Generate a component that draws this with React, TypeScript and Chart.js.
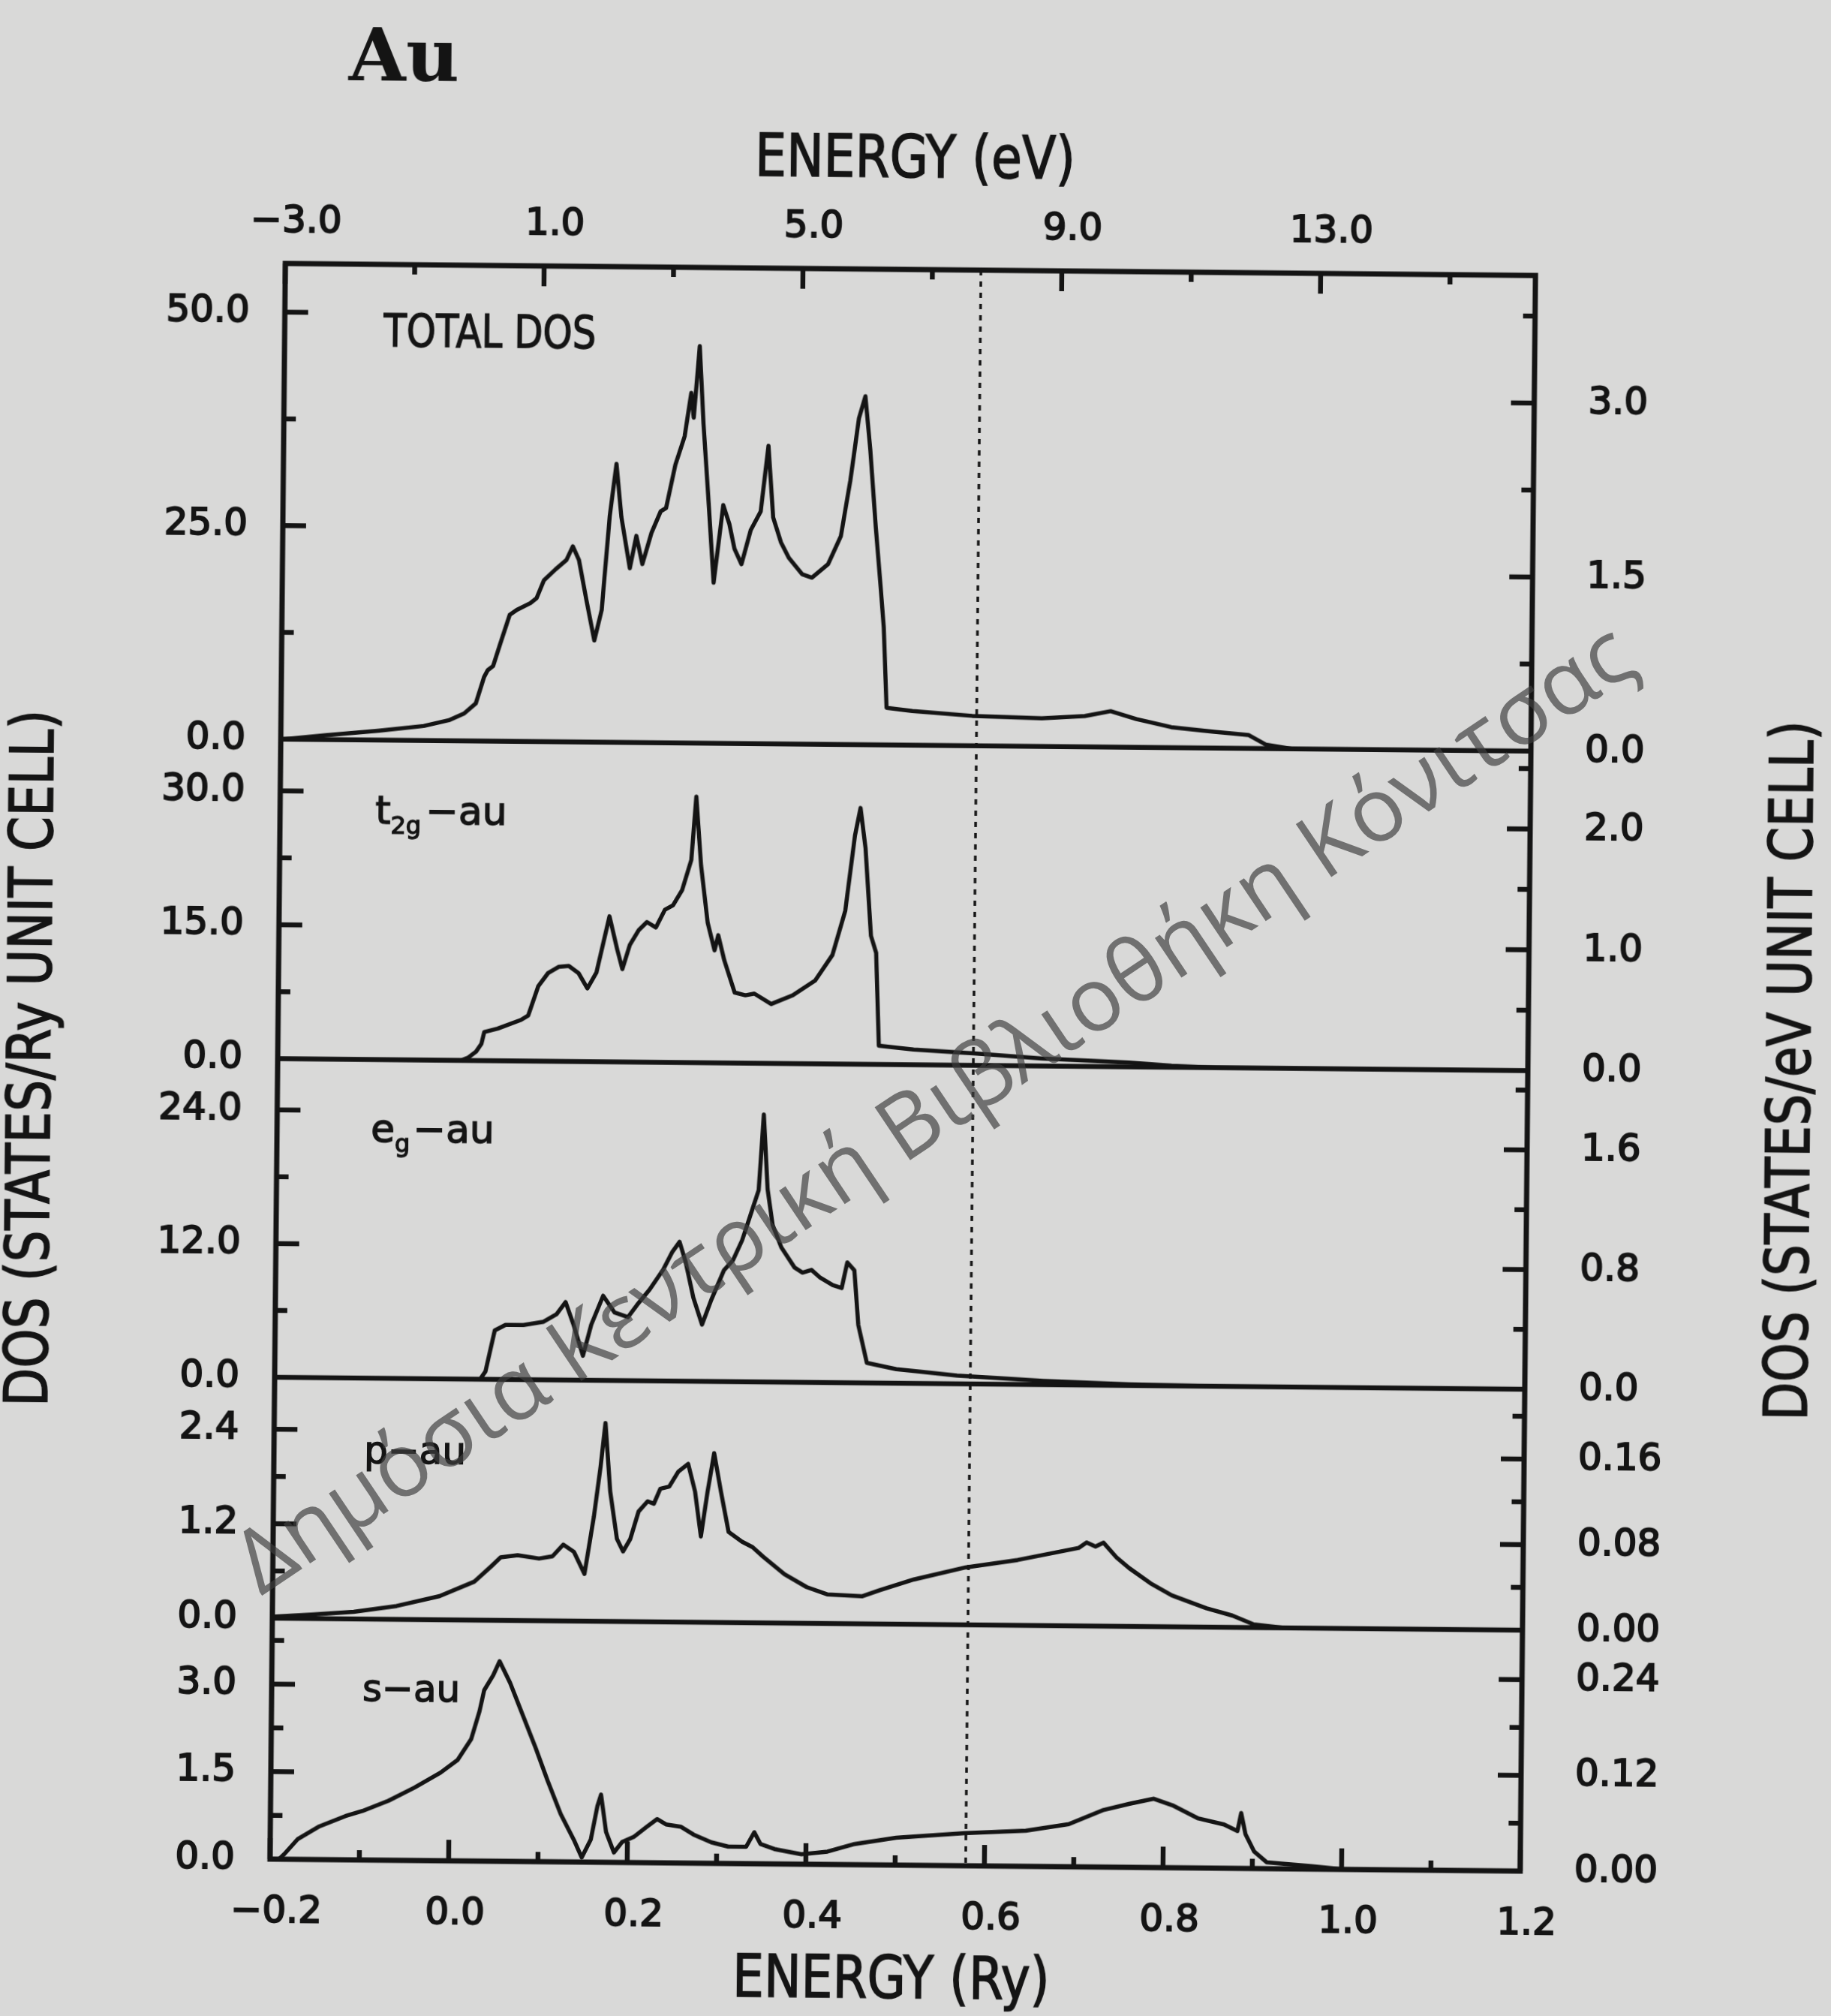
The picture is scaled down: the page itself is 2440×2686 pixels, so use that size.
import React, { useEffect, useMemo, useRef } from "react";
import { Chart, registerables } from "chart.js";

Chart.register(...registerables);

const W = 2440;
const H = 2686;
const INK = "#141414";
const PAPER = "#d9d9d8";
const FONT = "'DejaVu Sans', 'Noto Sans', sans-serif";
Chart.defaults.font.family = FONT;

// ---------------- data (energy in Ry, DOS in states/Ry unit cell) ----------------
const totalRy = [-0.196, -0.15, -0.09, -0.04, -0.012, 0.005, 0.018, 0.027, 0.031, 0.037, 0.045, 0.055, 0.063, 0.078, 0.085, 0.093, 0.106, 0.118, 0.125, 0.132, 0.141, 0.15, 0.158, 0.166, 0.173, 0.179, 0.189, 0.196, 0.203, 0.213, 0.223, 0.229, 0.239, 0.249, 0.256, 0.259, 0.265, 0.27, 0.276, 0.283, 0.293, 0.3, 0.306, 0.314, 0.324, 0.335, 0.343, 0.349, 0.358, 0.367, 0.382, 0.393, 0.411, 0.425, 0.435, 0.444, 0.451, 0.457, 0.464, 0.47, 0.474, 0.478, 0.507, 0.574, 0.652, 0.7, 0.729, 0.758, 0.797, 0.845, 0.884, 0.903, 0.932, 1.2];
const totalDos = [0, 0.5, 1.1, 1.7, 2.4, 3.2, 4.4, 7.5, 8.3, 8.8, 11.5, 14.8, 15.4, 16.2, 16.8, 18.9, 20.2, 21.3, 22.9, 21.3, 16.5, 11.9, 15.5, 26.5, 32.6, 26.4, 20.4, 24.2, 20.9, 24.6, 27.1, 27.5, 32.6, 35.9, 41.0, 38.1, 46.5, 37.4, 29.0, 18.8, 27.9, 25.7, 22.8, 21.0, 25.0, 27.2, 34.9, 26.5, 23.6, 21.8, 19.9, 19.5, 21.1, 24.4, 30.9, 38.2, 40.8, 34.6, 25.5, 18.6, 13.8, 4.35, 4.0, 3.5, 3.3, 3.6, 4.2, 3.3, 2.4, 1.9, 1.55, 0.47, 0, 0];

const t2gRy = [-0.2, 0.005, 0.013, 0.022, 0.028, 0.031, 0.046, 0.072, 0.08, 0.091, 0.102, 0.114, 0.125, 0.136, 0.146, 0.156, 0.17, 0.179, 0.185, 0.193, 0.203, 0.212, 0.222, 0.232, 0.241, 0.251, 0.261, 0.266, 0.272, 0.28, 0.288, 0.292, 0.299, 0.311, 0.323, 0.333, 0.352, 0.376, 0.401, 0.42, 0.434, 0.444, 0.45, 0.456, 0.463, 0.469, 0.473, 0.512, 0.579, 0.656, 0.753, 0.801, 0.849, 1.2];
const t2gDos = [0, 0, 0.3, 1.0, 1.9, 3.2, 3.6, 4.6, 5.1, 8.4, 9.9, 10.6, 10.7, 9.9, 8.2, 10.0, 16.3, 12.6, 10.4, 13.1, 14.8, 15.7, 15.1, 17.1, 17.6, 19.3, 22.7, 29.8, 22.1, 15.7, 12.6, 14.3, 11.5, 7.9, 7.6, 7.8, 6.65, 7.65, 9.34, 12.2, 17.2, 25.6, 28.7, 24.2, 14.4, 12.5, 2.1, 1.7, 1.35, 0.84, 0.49, 0.16, 0, 0];

const egRy = [-0.2, 0.03, 0.036, 0.046, 0.058, 0.078, 0.1, 0.115, 0.125, 0.134, 0.145, 0.154, 0.167, 0.18, 0.195, 0.205, 0.219, 0.234, 0.244, 0.252, 0.259, 0.268, 0.278, 0.288, 0.302, 0.312, 0.322, 0.332, 0.34, 0.345, 0.35, 0.356, 0.366, 0.381, 0.39, 0.4, 0.41, 0.424, 0.434, 0.44, 0.448, 0.453, 0.463, 0.496, 0.564, 0.661, 0.757, 0.85, 1.2];
const egDos = [0, 0, 0.7, 4.4, 4.9, 4.9, 5.2, 5.9, 7.0, 5.0, 2.2, 5.0, 7.6, 6.1, 5.7, 6.8, 8.2, 10.0, 11.6, 12.5, 10.7, 7.5, 5.1, 7.3, 10.0, 10.9, 12.7, 15.2, 17.2, 24.0, 17.3, 14.1, 12.1, 10.3, 9.85, 10.1, 9.4, 8.75, 8.5, 10.8, 10.1, 5.2, 1.8, 1.26, 0.74, 0.34, 0.1, 0, 0];

const pRy = [-0.2, -0.157, -0.109, -0.061, -0.013, 0.026, 0.045, 0.055, 0.074, 0.098, 0.113, 0.125, 0.137, 0.149, 0.159, 0.166, 0.171, 0.177, 0.185, 0.192, 0.2, 0.209, 0.219, 0.226, 0.233, 0.243, 0.253, 0.264, 0.272, 0.279, 0.286, 0.293, 0.301, 0.31, 0.325, 0.337, 0.349, 0.373, 0.398, 0.421, 0.46, 0.48, 0.518, 0.576, 0.634, 0.702, 0.711, 0.721, 0.73, 0.745, 0.759, 0.783, 0.807, 0.846, 0.875, 0.899, 0.933, 1.2];
const pDos = [0.02, 0.05, 0.09, 0.17, 0.3, 0.49, 0.69, 0.8, 0.83, 0.79, 0.82, 0.97, 0.88, 0.6, 1.33, 1.97, 2.52, 1.65, 1.05, 0.89, 1.05, 1.4, 1.53, 1.5, 1.69, 1.72, 1.91, 2.01, 1.66, 1.09, 1.66, 2.15, 1.66, 1.15, 1.03, 0.96, 0.84, 0.62, 0.46, 0.37, 0.35, 0.43, 0.57, 0.73, 0.83, 0.99, 1.06, 1.01, 1.06, 0.87, 0.74, 0.55, 0.4, 0.24, 0.15, 0.04, 0, 0];

const sRy = [-0.19, -0.184, -0.169, -0.145, -0.116, -0.097, -0.068, -0.039, -0.01, 0.009, 0.024, 0.033, 0.038, 0.048, 0.055, 0.067, 0.082, 0.096, 0.11, 0.125, 0.14, 0.149, 0.159, 0.166, 0.17, 0.176, 0.185, 0.194, 0.207, 0.221, 0.233, 0.243, 0.26, 0.274, 0.294, 0.313, 0.333, 0.342, 0.349, 0.366, 0.395, 0.424, 0.453, 0.501, 0.578, 0.646, 0.694, 0.733, 0.762, 0.789, 0.81, 0.839, 0.868, 0.883, 0.887, 0.892, 0.902, 0.916, 0.965, 1.003, 1.2];
const sDos = [0, 0.09, 0.35, 0.57, 0.75, 0.84, 1.02, 1.25, 1.51, 1.73, 2.09, 2.57, 2.93, 3.19, 3.43, 3.06, 2.49, 1.96, 1.39, 0.82, 0.38, 0.08, 0.39, 0.96, 1.16, 0.52, 0.17, 0.35, 0.44, 0.61, 0.75, 0.66, 0.62, 0.49, 0.36, 0.29, 0.29, 0.54, 0.34, 0.25, 0.17, 0.22, 0.35, 0.47, 0.56, 0.61, 0.73, 0.98, 1.09, 1.18, 1.07, 0.85, 0.75, 0.64, 0.95, 0.59, 0.29, 0.11, 0.05, 0, 0];

const fermiRy = 0.579;

// ---------------- ticks ----------------
const ryTicks = [-0.2, -0.1, 0, 0.1, 0.2, 0.3, 0.4, 0.5, 0.6, 0.7, 0.8, 0.9, 1.0, 1.1, 1.2];
const ryLabels = ["\u22120.2", "", "0.0", "", "0.2", "", "0.4", "", "0.6", "", "0.8", "", "1.0", "", "1.2"];
const evTicks = [-3, -1, 1, 3, 5, 7, 9, 11, 13, 15];
const evLabels = ["\u22123.0", "", "1.0", "", "5.0", "", "9.0", "", "13.0", ""];

const totalTicks = [0, 12.5, 25, 37.5, 50];
const totalLabels = ["0.0", "", "25.0", "", "50.0"];
const totalEvTicks = [0, 0.75, 1.5, 2.25, 3.0, 3.75];
const totalEvLabels = ["0.0", "", "1.5", "", "3.0", ""];
const t2gTicks = [0, 7.5, 15, 22.5, 30];
const t2gLabels = ["0.0", "", "15.0", "", "30.0"];
const t2gEvTicks = [0, 0.5, 1.0, 1.5, 2.0, 2.5];
const t2gEvLabels = ["0.0", "", "1.0", "", "2.0", ""];
const egTicks = [0, 6, 12, 18, 24];
const egLabels = ["0.0", "", "12.0", "", "24.0"];
const egEvTicks = [0, 0.4, 0.8, 1.2, 1.6, 2.0];
const egEvLabels = ["0.0", "", "0.8", "", "1.6", ""];
const pTicks = [0, 0.6, 1.2, 1.8, 2.4];
const pLabels = ["0.0", "", "1.2", "", "2.4"];
const pEvTicks = [0, 0.04, 0.08, 0.12, 0.16, 0.2];
const pEvLabels = ["0.00", "", "0.08", "", "0.16", ""];
const sTicks = [0, 0.75, 1.5, 2.25, 3.0, 3.75];
const sLabels = ["0.0", "", "1.5", "", "3.0", ""];
const sEvTicks = [0, 0.06, 0.12, 0.18, 0.24];
const sEvLabels = ["0.00", "", "0.12", "", "0.24"];

// ---------------- layout ----------------
const FRAME = { left: 370, right: 2036, top: 359, bottom: 2485 };
const TILT = 0.55;

const panels = [
  { key: "tot", ry: totalRy, dos: totalDos, max: 55.7, evMax: 4.1, h: 633.7, lt: totalTicks, ll: totalLabels, rt: totalEvTicks, rl: totalEvLabels },
  { key: "t2g", ry: t2gRy, dos: t2gDos, max: 35.8, evMax: 2.645, h: 425.8, lt: t2gTicks, ll: t2gLabels, rt: t2gEvTicks, rl: t2gEvLabels },
  { key: "eg", ry: egRy, dos: egDos, max: 28.6, evMax: 2.13, h: 424.5, lt: egTicks, ll: egLabels, rt: egEvTicks, rl: egEvLabels },
  { key: "p", ry: pRy, dos: pDos, max: 3.06, evMax: 0.2253, h: 321, lt: pTicks, ll: pLabels, rt: pEvTicks, rl: pEvLabels },
  { key: "s", ry: sRy, dos: sDos, max: 4.13, evMax: 0.302, h: 321, lt: sTicks, ll: sLabels, rt: sEvTicks, rl: sEvLabels },
];

const tickFont = { size: 50, family: FONT };
const tickInk = { color: INK, font: tickFont, textStrokeColor: INK, textStrokeWidth: 2 };

function buildScales() {
  const scales: any = {
    x: {
      type: "linear", position: "bottom", min: -0.2, max: 1.2,
      grid: { display: false, drawTicks: false }, border: { display: false },
      afterBuildTicks: (s: any) => { s.ticks = ryTicks.map((v) => ({ value: v })); },
      afterFit: (s: any) => { s.height = H - FRAME.bottom; },
      ticks: { ...tickInk, autoSkip: false, maxRotation: 0, minRotation: 0, padding: 41, labelOffset: 9, callback: (_v: any, i: number) => ryLabels[i] },
    },
    xev: {
      type: "linear", position: "top", min: -3, max: 16.32,
      grid: { display: false, drawTicks: false }, border: { display: false },
      afterBuildTicks: (s: any) => { s.ticks = evTicks.map((v) => ({ value: v })); },
      afterFit: (s: any) => { s.height = FRAME.top; },
      ticks: { ...tickInk, autoSkip: false, maxRotation: 0, minRotation: 0, padding: 25, labelOffset: 14, callback: (_v: any, i: number) => evLabels[i] },
    },
  };
  panels.forEach((p, i) => {
    scales["L" + p.key] = {
      type: "linear", position: "left", stack: "L", stackWeight: p.h, weight: 10 - i,
      min: 0, max: p.max,
      grid: { display: false, drawTicks: false }, border: { display: false },
      afterBuildTicks: (s: any) => { s.ticks = p.lt.map((v) => ({ value: v })); },
      afterFit: (s: any) => { s.width = FRAME.left; },
      ticks: { ...tickInk, autoSkip: false, padding: 47, callback: (_v: any, k: number) => p.ll[k] },
    };
    scales["R" + p.key] = {
      type: "linear", position: "right", stack: "R", stackWeight: p.h, weight: i + 1,
      min: 0, max: p.evMax,
      grid: { display: false, drawTicks: false }, border: { display: false },
      afterBuildTicks: (s: any) => { s.ticks = p.rt.map((v) => ({ value: v })); },
      afterFit: (s: any) => { s.width = W - FRAME.right; },
      ticks: { ...tickInk, autoSkip: false, padding: 72, callback: (_v: any, k: number) => p.rl[k] },
    };
  });
  return scales;
}

const framePlugin = {
  id: "dosFrame",
  afterDatasetsDraw(chart: any) {
    const { ctx, chartArea: a, scales } = chart;
    const seg = (x1: number, y1: number, x2: number, y2: number) => {
      ctx.beginPath(); ctx.moveTo(x1, y1); ctx.lineTo(x2, y2); ctx.stroke();
    };
    ctx.save();
    ctx.strokeStyle = INK;
    ctx.lineCap = "butt";
    // Fermi level
    ctx.lineWidth = 3.5;
    ctx.setLineDash([7, 8]);
    const xf = scales.x.getPixelForValue(fermiRy);
    seg(xf, a.top, xf, a.bottom);
    ctx.setLineDash([]);
    ctx.lineWidth = 6.5;
    panels.forEach((p, i) => {
      const L = scales["L" + p.key];
      const R = scales["R" + p.key];
      if (i < panels.length - 1) {
        const y0 = L.getPixelForValue(0);
        seg(a.left, y0, a.right, y0);
      }
      p.lt.forEach((v, k) => {
        if (v === 0) return;
        const y = L.getPixelForValue(v);
        seg(a.left, y, a.left + (p.ll[k] ? 31 : 16), y);
      });
      p.rt.forEach((v, k) => {
        if (v === 0) return;
        const y = R.getPixelForValue(v);
        seg(a.right, y, a.right - (p.rl[k] ? 31 : 16), y);
      });
    });
    ryTicks.forEach((v, k) => {
      const x = scales.x.getPixelForValue(v);
      seg(x, a.bottom, x, a.bottom - (ryLabels[k] ? 28 : 13));
    });
    evTicks.forEach((v, k) => {
      const x = scales.xev.getPixelForValue(v);
      seg(x, a.top, x, a.top + (evLabels[k] ? 27 : 13));
    });
    ctx.lineWidth = 7;
    ctx.strokeRect(a.left, a.top, a.right - a.left, a.bottom - a.top);
    ctx.restore();
  },
};

type TxtProps = { x: number; y: number; size: number; sx?: number; rot?: number; family?: string; weight?: any; stroke?: number; children: any };

function CenterText({ x, y, size, sx = 1, rot = 0, family = FONT, weight = "normal", stroke = 1.6, children }: TxtProps) {
  return (
    <div
      style={{
        position: "absolute", left: x, top: y, fontFamily: family, fontSize: size, fontWeight: weight,
        lineHeight: 1, whiteSpace: "nowrap", color: INK, WebkitTextStroke: `${stroke}px ${INK}`,
        transform: `translate(-50%, -50%) rotate(${rot}deg) scaleX(${sx})`, transformOrigin: "50% 50%",
      }}
    >
      {children}
    </div>
  );
}

function BaseText({ x, y, size, sx = 1, family = FONT, weight = "normal", stroke = 1.4, children }: TxtProps) {
  return (
    <div
      style={{
        position: "absolute", left: x, top: y - 0.846 * size, fontFamily: family, fontSize: size, fontWeight: weight,
        lineHeight: 1, whiteSpace: "nowrap", color: INK, WebkitTextStroke: `${stroke}px ${INK}`,
        transform: `scaleX(${sx})`, transformOrigin: "0 0",
      }}
    >
      {children}
    </div>
  );
}

const WM_TEXT = "Δημόσια Κεντρική Βιβλιοθήκη Κόνιτσας";
const WM_ANGLE = -33.9;

export default function App() {
  const ref = useRef<HTMLCanvasElement>(null);

  const wmSize = useMemo(() => {
    const c = document.createElement("canvas").getContext("2d");
    if (!c) return 112;
    c.font = "100px 'Open Sans'";
    const w = c.measureText(WM_TEXT).width;
    return w > 0 ? (100 * 2215) / w : 112;
  }, []);

  useEffect(() => {
    const canvas = ref.current;
    if (!canvas) return;
    const chart = new Chart(canvas, {
      type: "line",
      data: {
        datasets: panels.map((p) => ({
          label: p.key,
          data: p.ry.map((x, i) => ({ x, y: p.dos[i] })),
          xAxisID: "x",
          yAxisID: "L" + p.key,
          borderColor: INK,
          borderWidth: 5.5,
          pointRadius: 0,
          fill: false,
          tension: 0,
          borderJoinStyle: "round",
        })),
      },
      options: {
        animation: false,
        responsive: false,
        maintainAspectRatio: false,
        devicePixelRatio: 1,
        events: [],
        layout: { padding: 0 },
        plugins: { legend: { display: false }, tooltip: { enabled: false }, title: { display: false } },
        scales: buildScales(),
      } as any,
      plugins: [framePlugin],
    });
    return () => chart.destroy();
  }, []);

  const rad = (WM_ANGLE * Math.PI) / 180;
  const drop = 0.888 * wmSize;
  const wmLeft = 348 - drop * -Math.sin(rad);
  const wmTop = 2128 - drop * Math.cos(rad);

  return (
    <div style={{ position: "fixed", left: 0, top: 0, width: W, height: H, background: PAPER, overflow: "hidden" }}>
      <div style={{ position: "absolute", left: 0, top: 0, width: W, height: H, transform: `rotate(${TILT}deg)`, transformOrigin: "1203px 1422px" }}>
        <canvas ref={ref} width={W} height={H} style={{ position: "absolute", left: 0, top: 0, width: W, height: H, display: "block" }} />
        <BaseText x={452} y={114} size={98} family="'DejaVu Serif', serif" weight="bold" stroke={0}>Au</BaseText>
        <CenterText x={1208} y={209} size={78} sx={0.85}>ENERGY (eV)</CenterText>
        <CenterText x={1199} y={2635} size={78} sx={0.85}>ENERGY (Ry)</CenterText>
        <CenterText x={40} y={1421} size={80} sx={0.83} rot={-90}>DOS (STATES/Ry UNIT CELL)</CenterText>
        <CenterText x={2385} y={1415} size={80} sx={0.83} rot={-90}>DOS (STATES/eV UNIT CELL)</CenterText>
        <BaseText x={502} y={468} size={60} sx={0.83}>TOTAL DOS</BaseText>
        <BaseText x={497} y={1104} size={52}>
          t<span style={{ fontSize: 32, position: "relative", top: 13 }}>2g</span>
          <span style={{ marginLeft: 6 }}>−au</span>
        </BaseText>
        <BaseText x={495} y={1528} size={52}>
          e<span style={{ fontSize: 32, position: "relative", top: 13 }}>g</span>
          <span style={{ marginLeft: 4 }}>−au</span>
        </BaseText>
        <BaseText x={490} y={1956} size={50}>p−au</BaseText>
        <BaseText x={491} y={2273} size={50}>s−au</BaseText>
      </div>
      <div
        style={{
          position: "absolute", left: wmLeft, top: wmTop, fontFamily: "'Open Sans', 'Noto Sans', sans-serif",
          fontSize: wmSize, lineHeight: 1, whiteSpace: "nowrap", color: "rgba(62,62,62,0.68)",
          transform: `rotate(${WM_ANGLE}deg)`, transformOrigin: "0 0", pointerEvents: "none",
        }}
      >
        {WM_TEXT}
      </div>
    </div>
  );
}
